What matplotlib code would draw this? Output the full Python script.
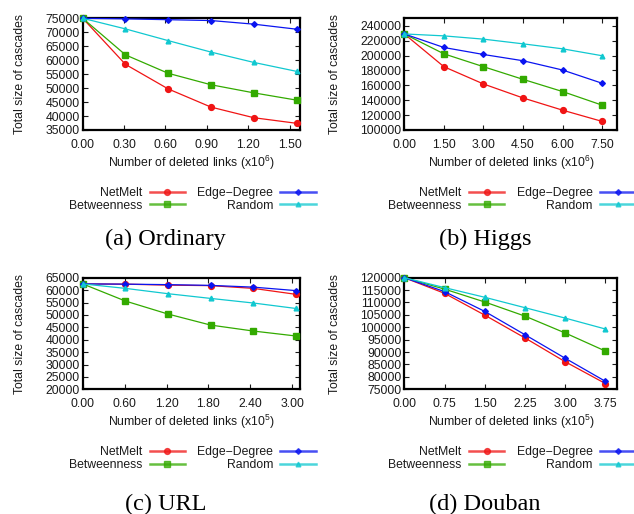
import matplotlib
matplotlib.use("Agg")
from matplotlib import pyplot as plt
from matplotlib.ticker import MultipleLocator, FormatStrFormatter

plt.rcParams['font.family'] = ['Liberation Sans', 'DejaVu Sans']
plt.rcParams['mathtext.default'] = 'regular'

# x positions (deleted links, in units of the axis multiplier)
x_ordinary = [0, 0.31, 0.62, 0.93, 1.24, 1.55]
x_higgs = [0, 1.5, 3.0, 4.5, 6.0, 7.5]
x_url = [0, 0.61, 1.22, 1.83, 2.44, 3.05]
x_douban = [0, 0.75, 1.5, 2.25, 3.0, 3.75]

# (a) Ordinary
ord_netmelt = [75000, 58500, 49700, 43200, 39400, 37400]
ord_betweenness = [75000, 61900, 55300, 51200, 48300, 45700]
ord_edge_degree = [75000, 74800, 74500, 74200, 72900, 71100]
ord_random = [75000, 71200, 67000, 62900, 59200, 56000]

# (b) Higgs
hig_netmelt = [229000, 185000, 161800, 143000, 126600, 111500]
hig_betweenness = [229000, 202300, 185000, 168000, 151600, 133300]
hig_edge_degree = [229000, 210800, 201400, 193000, 180500, 162700]
hig_random = [229000, 226400, 222000, 215700, 209000, 199700]

# (c) URL
url_netmelt = [62500, 62400, 62000, 61800, 60700, 58300]
url_betweenness = [62500, 55600, 50350, 45900, 43500, 41500]
url_edge_degree = [62500, 62400, 62200, 61900, 61200, 59800]
url_random = [62500, 60700, 58550, 56650, 54800, 52600]

# (d) Douban
dou_netmelt = [120000, 113700, 104900, 95700, 86100, 77300]
dou_betweenness = [120000, 115400, 110200, 104500, 97700, 90400]
dou_edge_degree = [120000, 114400, 106400, 97000, 87500, 78200]
dou_random = [120000, 116000, 112100, 107900, 103700, 99300]

methods = ["NetMelt", "Betweenness", "Edge\u2212Degree", "Random"]
colors = ["#f01414", "#33aa00", "#0a14f0", "#10c8d0"]
markers = ["o", "s", "D", "^"]
msizes = [4.2, 4.8, 2.9, 3.4]

W, H = 634, 514
fig = plt.figure(figsize=(W / 100, H / 100), dpi=100)


# one panel: box position in pixels, data, axis settings
def plot_panel(box, x, ys, xmax, xstep, ylim, ystep, power, caption, cap_y):
    left, top, right, bottom = box
    ax = fig.add_axes([left / W, 1 - bottom / H, (right - left) / W, (bottom - top) / H])
    lines = []
    for y, c, m, s, name in zip(ys, colors, markers, msizes, methods):
        ax.plot(x, y, color=c, marker=m, markersize=s, linewidth=0.9,
                clip_on=False, zorder=3)
        # legend sample: a bit lighter and thicker, as in the original
        ln, = plt.plot([], [], color=c, marker=m, markersize=s, linewidth=1.8,
                       alpha=0.75, label=name)
        lines.append(ln)
    ax.set_xlim(0, xmax)
    ax.set_ylim(*ylim)
    ax.xaxis.set_major_locator(MultipleLocator(xstep))
    ax.xaxis.set_major_formatter(FormatStrFormatter("%.2f"))
    ax.yaxis.set_major_locator(MultipleLocator(ystep))
    ax.tick_params(direction="in", top=True, right=True, length=3.5, width=0.8,
                   labelsize=8.8, colors="#1a1a1a")
    ax.tick_params(axis="x", pad=6.5)
    ax.tick_params(axis="y", pad=2)
    for sp in ax.spines.values():
        sp.set_linewidth(1.6)
    ax.set_xlabel("Number of deleted links (x10$^{%d}$)" % power, fontsize=8.8, color="#1a1a1a")
    ax.set_ylabel("Total size of cascades", fontsize=8.8, color="#1a1a1a")
    ax.xaxis.set_label_coords(0.5, -32.7 / (bottom - top))
    ax.xaxis.label.set_va("center")
    ax.yaxis.set_label_coords(-(left - (20 if left < 200 else 335)) / (right - left), 0.5)
    ax.yaxis.label.set_va("center")

    cx = (left + right) / 2
    leg = fig.legend(handles=lines, ncol=2, loc="center",
                     bbox_to_anchor=((cx + 1) / W, 1 - (top + 181) / H),
                     frameon=False, markerfirst=False, fontsize=8.8,
                     handlelength=2.9, handletextpad=0.6, columnspacing=1.0,
                     labelspacing=0.05, borderpad=0)
    for t in leg.get_texts():
        t.set_color("#1a1a1a")
    fig.text((cx - 26) / W, 1 - cap_y / H, caption, ha="center", va="baseline",
             fontsize=17.5, family="Liberation Serif")
    return ax


plot_panel((82.7, 18.3, 300, 130), x_ordinary,
           [ord_netmelt, ord_betweenness, ord_edge_degree, ord_random],
           1.575, 0.3, (35000, 75000), 5000, 6, "(a) Ordinary", 245)
plot_panel((404.3, 18.3, 617.3, 130), x_higgs,
           [hig_netmelt, hig_betweenness, hig_edge_degree, hig_random],
           8.07, 1.5, (100000, 250000), 20000, 6, "(b) Higgs", 245)
plot_panel((82.7, 277.7, 300, 389.3), x_url,
           [url_netmelt, url_betweenness, url_edge_degree, url_random],
           3.11, 0.6, (20000, 65000), 5000, 5, "(c) URL", 510)
plot_panel((404.3, 277.7, 617.3, 389.3), x_douban,
           [dou_netmelt, dou_betweenness, dou_edge_degree, dou_random],
           3.97, 0.75, (75000, 120000), 5000, 5, "(d) Douban", 510)

fig.savefig("out.png", dpi=100)
